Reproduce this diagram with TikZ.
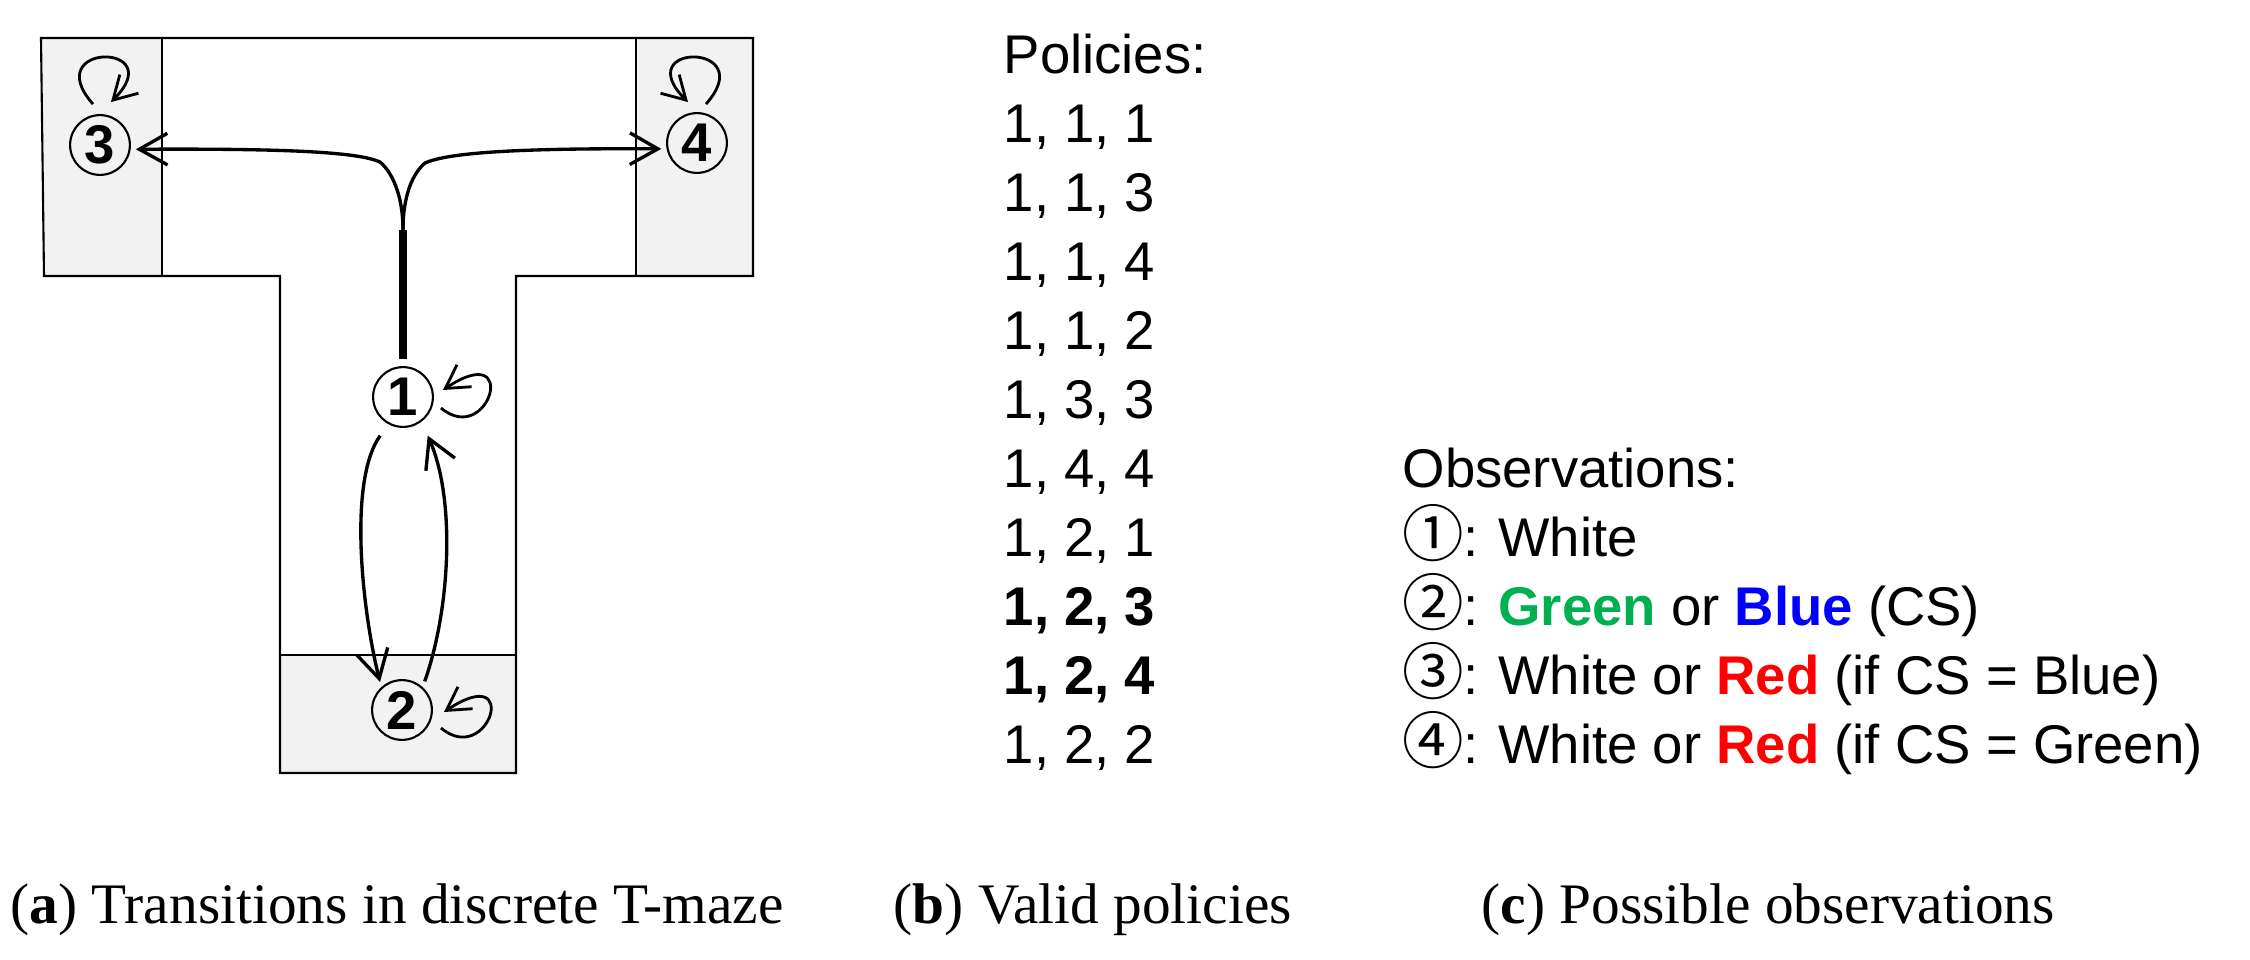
\documentclass[tikz,border=0pt]{standalone}
\usepackage{fontspec}
\setmainfont{Liberation Sans}
\newfontfamily\capfont{Liberation Serif}
\newfontfamily\circfont{Noto Sans CJK JP}
\usetikzlibrary{arrows.meta}
\definecolor{obsgreen}{RGB}{0,176,80}
\definecolor{obsblue}{RGB}{0,0,255}
\definecolor{obsred}{RGB}{255,0,0}
\newcommand{\circnum}[1]{{\circfont\fontsize{17.5}{17.5}\selectfont #1}\kern-0.3pt}

\begin{document}
\begin{tikzpicture}[x=0.01cm,y=0.01cm]
    % `state' is used for the numbered places in the maze.
    % `trans' is used for moves, `stay' for the self loops.
    % `goal' is used for the grey arms and the cue arm.
    \tikzstyle{state} = [draw,circle,line width=0.6pt,minimum size=17pt,inner sep=0pt,font=\fontsize{15.5}{15.5}\selectfont\bfseries]
    \tikzstyle{trans} = [line width=0.95pt,-{Straight Barb[length=8pt,width=9pt]}]
    \tikzstyle{stay} = [line width=0.8pt,-{Straight Barb[length=6.5pt,width=7.5pt]}]
    \tikzstyle{goal} = [fill=black!5]
    \tikzstyle{wall} = [line width=0.6pt]
    \tikzstyle{txt} = [anchor=base west,inner sep=0pt,font=\fontsize{15.5}{19.6}\selectfont]
    \tikzstyle{caption} = [anchor=base west,inner sep=0pt,font=\capfont\fontsize{16.3}{19}\selectfont]
    \useasboundingbox (0,0) rectangle (2250,-960);
    %
    % Grey areas and the maze walls.
    \fill[goal] (41,-38) -- (162,-38) -- (162,-276) -- (44,-276) -- cycle;
    \fill[goal] (636,-38) rectangle (753,-276);
    \fill[goal] (280,-655) rectangle (516,-773);
    \draw[line width=0.3pt] (162,-38) -- (162,-276) (636,-38) -- (636,-276);
    \draw[line width=0.5pt] (280,-655) -- (516,-655);
    \draw[wall] (41,-38) -- (753,-38) -- (753,-276) -- (516,-276) -- (516,-773)
        -- (280,-773) -- (280,-276) -- (44,-276) -- cycle;
    %
    \node[state] (s1) at (403,-397) {1};
    \node[state] (s2) at (402,-710) {2};
    \node[state] (s3) at (100,-145) {3};
    \node[state] (s4) at (697,-143) {4};
    \coordinate (split) at (403,-230);
    \coordinate (kneeL) at (380,-162);
    \coordinate (kneeR) at (425,-163);
    %
    % Moves out of 1 to the two arms.
    \draw[line width=2pt,shorten <=2pt] (s1.north) -- (split);
    \draw[trans,shorten >=1.5pt] (split) .. controls +(0,35) and +(12,-10) .. (kneeL)
        .. controls +(-20,9) and +(170,1) .. (s3.-8);
    \draw[trans,shorten >=1.5pt] (split) .. controls +(0,35) and +(-12,-10) .. (kneeR)
        .. controls +(20,9) and +(-165,1) .. (s4.191);
    % Moves between 1 and 2.
    \draw[trans,shorten <=4pt,shorten >=1.5pt] (s1.-118) .. controls (348,-480) and (362,-610) .. (s2.132);
    \draw[trans,shorten <=1.7pt,shorten >=4.3pt] (s2.48) .. controls (450,-610) and (456,-500) .. (s1.-53);
    % Self loops.
    \draw[stay] ([shift={(-7,10)}]s3.north) .. controls +(-55,62) and +(60,60) .. ([shift={(11,12)}]s3.north);
    \draw[stay] ([shift={(9,8)}]s4.north) .. controls +(55,62) and +(-60,60) .. ([shift={(-9,10)}]s4.north);
    \draw[stay] ([shift={(7,-11)}]s1.east) .. controls +(48,-40) and +(78,52) .. ([shift={(9,7)}]s1.east);
    \draw[stay] ([shift={(8,-18)}]s2.east) .. controls +(48,-40) and +(78,52) .. ([shift={(11,-2)}]s2.east);
    %
    % Policies.
    \node[txt] (pol) at (1003,-73) {Policies:};
    \node[txt] (p1) at (1003,-142) {1, 1, 1};
    \node[txt] (p2) at (1003,-211) {1, 1, 3};
    \node[txt] (p3) at (1003,-280) {1, 1, 4};
    \node[txt] (p4) at (1003,-349) {1, 1, 2};
    \node[txt] (p5) at (1003,-418) {1, 3, 3};
    \node[txt] (p6) at (1003,-487) {1, 4, 4};
    \node[txt] (p7) at (1003,-556) {1, 2, 1};
    \node[txt] (p8) at (1003,-625) {\textbf{1, 2, 3}};
    \node[txt] (p9) at (1003,-694) {\textbf{1, 2, 4}};
    \node[txt] (p10) at (1003,-763) {1, 2, 2};
    %
    % Observations.
    \node[txt] (obs) at (1402,-487) {Observations:};
    \node[txt] (o1) at (1402,-556) {\circnum{①}: White};
    \node[txt] (o2) at (1402,-625) {\circnum{②}: \textbf{\color{obsgreen}Green} or \textbf{\color{obsblue}Blue} (CS)};
    \node[txt] (o3) at (1402,-694) {\circnum{③}: White or \textbf{\color{obsred}Red} (if CS = Blue)};
    \node[txt] (o4) at (1402,-763) {\circnum{④}: White or \textbf{\color{obsred}Red} (if CS = Green)};
    %
    % Sub captions.
    \node[caption] (capa) at (10,-923) {(\textbf{a}) Transitions in discrete T-maze};
    \node[caption] (capb) at (893,-923) {(\textbf{b}) Valid policies};
    \node[caption] (capc) at (1481,-923) {(\textbf{c}) Possible observations};
\end{tikzpicture}
\end{document}
